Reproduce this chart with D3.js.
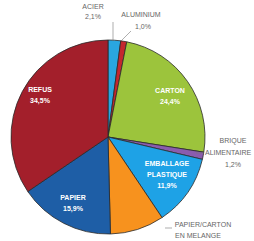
<!DOCTYPE html>
<html>
<head>
<meta charset="utf-8">
<script src="https://cdn.jsdelivr.net/npm/d3@7"></script>
<style>
  body { margin: 0; background: #fff; overflow: hidden; }
  svg { display: block; }
</style>
</head>
<body>
<div id="chart"></div>
<script>
// Données (% du total)
const categories = ["ACIER", "ALUMINIUM", "CARTON", "BRIQUE ALIMENTAIRE", "EMBALLAGE PLASTIQUE", "PAPIER/CARTON EN MELANGE", "PAPIER", "REFUS"];
const values = [2.1, 1.0, 24.4, 1.2, 11.9, 9.0, 15.9, 34.5];
const valueLabels = ["2,1%", "1,0%", "24,4%", "1,2%", "11,9%", "", "15,9%", "34,5%"];
const colors = ["#2aa6e0", "#c4262e", "#9cc43c", "#8a5cae", "#1ea2e6", "#f7921e", "#1e5ea6", "#a31f2b"];

const width = 254, height = 241;
const cx = 108, cy = 137, r = 97;

const svg = d3.select("#chart").append("svg")
    .attr("width", width)
    .attr("height", height)
    .style("font-family", "'Liberation Sans', Arial, sans-serif");

const g = svg.append("g").attr("transform", `translate(${cx},${cy})`);

const pie = d3.pie().sort(null).value(d => d.value);
const arc = d3.arc().innerRadius(0).outerRadius(r);

const data = categories.map((c, i) => ({name: c, value: values[i], label: valueLabels[i], color: colors[i]}));
const arcs = pie(data);

g.selectAll("path")
    .data(arcs)
    .enter()
    .append("path")
    .attr("d", arc)
    .attr("fill", d => d.data.color)
    .attr("stroke", "#2a2a2a")
    .attr("stroke-width", 0.8);

// labels inside slices: [x, y, lines]
const inside = [
  [170, 93, ["CARTON", "24,4%"]],
  [40, 92, ["REFUS", "34,5%"]],
  [167, 166, ["EMBALLAGE", "PLASTIQUE", "11,9%"]],
  [73, 200, ["PAPIER", "15,9%"]]
];
inside.forEach(([x, y, lines]) => {
  const t = svg.append("text")
      .attr("x", x).attr("y", y)
      .attr("text-anchor", "middle")
      .attr("fill", "#fff")
      .style("font-size", "7px")
      .style("font-weight", "bold");
  lines.forEach((l, k) => t.append("tspan").attr("x", x).attr("dy", k ? 11 : 0).text(l));
});

// outside labels: [x, y, text, anchor]
const outside = [
  [93, 9, "ACIER", "middle"],
  [93, 19, "2,1%", "middle"],
  [141, 17, "ALUMINIUM", "middle"],
  [143, 29, "1,0%", "middle"],
  [233, 143, "BRIQUE", "middle"],
  [205, 155, "ALIMENTAIRE", "start"],
  [233, 167, "1,2%", "middle"],
  [203, 227, "PAPIER/CARTON", "middle"],
  [198, 238, "EN MELANGE", "middle"]
];
svg.append("g").selectAll("text")
    .data(outside)
    .enter()
    .append("text")
    .attr("x", d => d[0])
    .attr("y", d => d[1])
    .attr("text-anchor", d => d[3])
    .attr("fill", "#666")
    .style("font-size", "7px")
    .text(d => d[2]);

// leader lines
const leaders = [
  [[113, 22], [113, 41]],
  [[131, 31], [121, 41]],
  [[196, 153], [204, 153]],
  [[165, 228], [172, 228]]
];
svg.append("g").selectAll("path")
    .data(leaders)
    .enter()
    .append("path")
    .attr("d", d3.line())
    .attr("stroke", "#777")
    .attr("stroke-width", 0.6)
    .attr("fill", "none");
</script>
</body>
</html>
